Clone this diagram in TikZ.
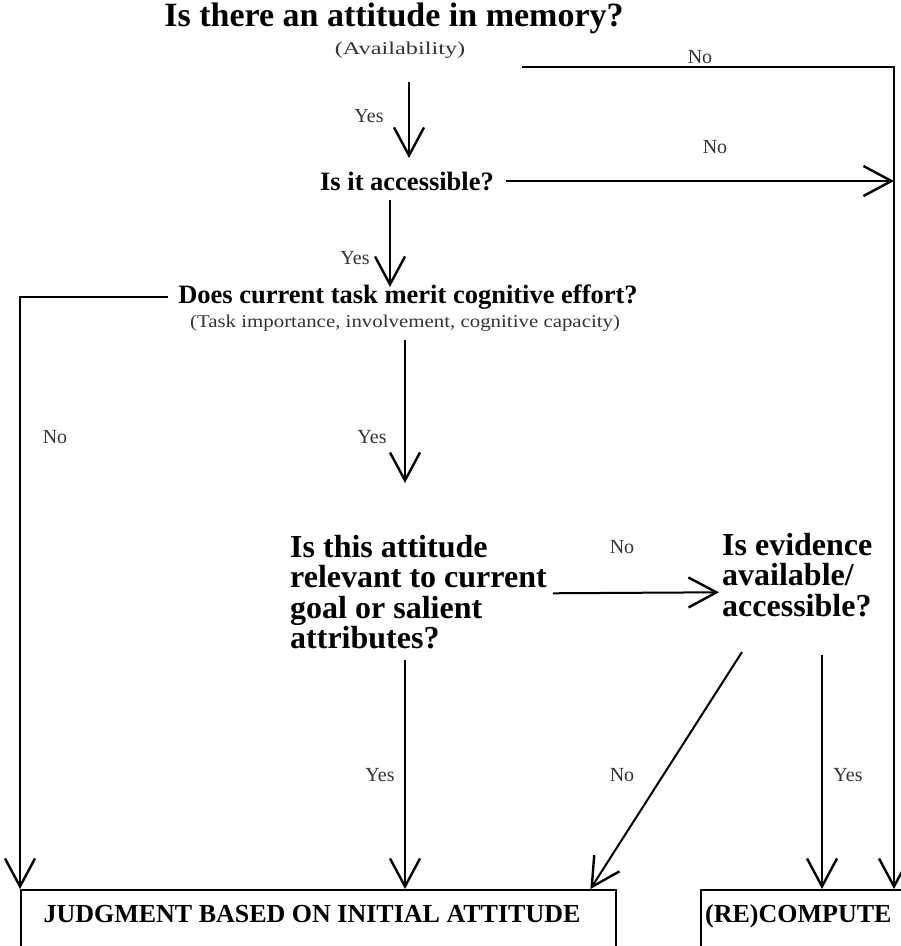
\documentclass[tikz,border=0pt]{standalone}
\usepackage{fontspec}
\usepackage{graphicx}
\setmainfont{Liberation Serif}
\usetikzlibrary{arrows.meta}
\begin{document}
\begin{tikzpicture}[x=1pt,y=-1pt,
  ttl/.style={font=\fontsize{34}{36}\selectfont\bfseries, inner sep=0pt},
  qst/.style={font=\fontsize{26.5}{28}\selectfont\bfseries, inner sep=0pt},
  blk/.style={font=\fontsize{32}{30.5}\selectfont\bfseries, inner sep=0pt, align=left, anchor=north west},
  subt/.style={font=\fontsize{18}{18}\selectfont, inner sep=0pt, text=black!80},
  lbl/.style={font=\fontsize{20}{20}\selectfont, inner sep=0pt, text=black!80},
  boxtxt/.style={font=\fontsize{26}{26}\selectfont\bfseries, inner sep=0pt},
  arr/.style={line width=2pt, -{Straight Barb[length=28pt,width=30pt,line width=2.4pt]}},
  bx/.style={draw, line width=2.4pt, inner sep=0pt, anchor=north west}
]
\useasboundingbox (0,0) rectangle (901,946);
\clip (0,0) rectangle (901,946);

% nodes
\node[ttl] (t1) at (394,18) {Is there an attitude in memory?};
\node[subt] (s1) at (400,50) {\scalebox{1.35}[1]{(Availability)}};
\node[qst] (q2) at (407,181) {Is it accessible?};
\node[qst] (q3) at (408,297) {Does current task merit cognitive effort?};
\node[subt] (s3) at (405,323) {\scalebox{1.16}[1]{(Task importance, involvement, cognitive capacity)}};
\node[blk] (q4) at (290,535) {Is this attitude\\relevant to current\\goal or salient\\attributes?};
\node[blk] (q5) at (722,533) {Is evidence\\available/\\accessible?};

\node[bx, minimum width=595pt, minimum height=90pt] (lbox) at (20,889) {};
\node[bx, minimum width=240pt, minimum height=90pt] (rbox) at (700,889) {};
\node[boxtxt, anchor=base] (lt) at (312,922) {JUDGMENT BASED ON INITIAL ATTITUDE};
\node[boxtxt, anchor=base west] (rt) at (705,922) {(RE)COMPUTE};

% labels
\node[lbl] (n1) at (700,57) {No};
\node[lbl] (y1) at (369,116) {Yes};
\node[lbl] (n2) at (715,147) {No};
\node[lbl] (y2) at (355,258) {Yes};
\node[lbl] (n3) at (55,437) {No};
\node[lbl] (y3) at (372,437) {Yes};
\node[lbl] (n4) at (622,547) {No};
\node[lbl] (y4) at (380,775) {Yes};
\node[lbl] (n5) at (622,775) {No};
\node[lbl] (y5) at (848,775) {Yes};

% coordinates
\coordinate (c1) at (522,67);
\coordinate (cR) at (894,67);
\coordinate (a1s) at (409,82);
\coordinate (a1e) at (409,158);
\coordinate (a2s) at (390,200);
\coordinate (a2e) at (390,287);
\coordinate (cL) at (20,297);
\coordinate (a3s) at (405,340);
\coordinate (a3e) at (405,483);
\coordinate (a5s) at (405,660);
\coordinate (d1) at (742,652);
\coordinate (a6s) at (822,655);

% connectors
\draw[arr] (c1) -- (cR) -- (rbox.north -| cR);
\draw[arr] (a1s) -- (a1e);
\draw[arr] ([xshift=12pt]q2.east) -- (q2.east -| cR);
\draw[arr] (a2s) -- (a2e);
\draw[arr] ([xshift=-10pt]q3.west) -- (cL) -- (lbox.north west);
\draw[arr] (a3s) -- (a3e);
\draw[arr] ([xshift=6pt,yshift=-1pt]q4.east) -- ([xshift=-3pt]q4.east -| q5.west);
\draw[arr] (a5s) -- (lbox.north -| a5s);
\draw[arr] (d1) -- ([xshift=-27pt]lbox.north east);
\draw[arr] (a6s) -- (rbox.north -| a6s);
\end{tikzpicture}
\end{document}
